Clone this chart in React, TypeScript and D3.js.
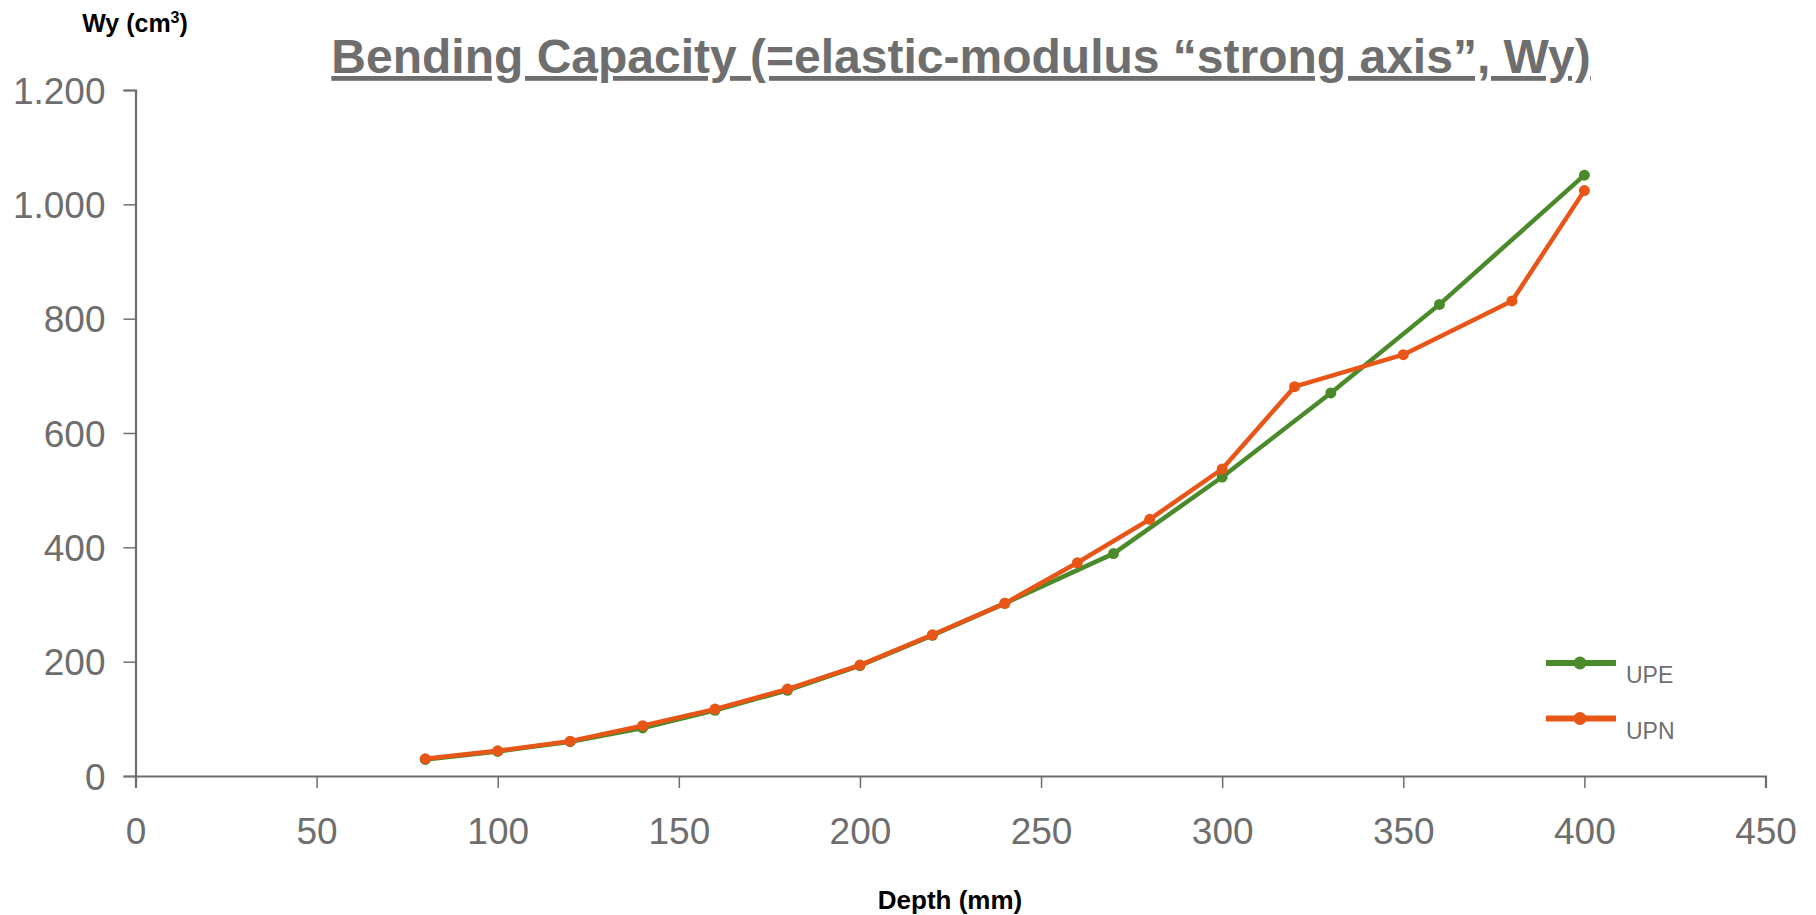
import React, { useEffect, useRef } from 'react';
import * as d3 from 'd3';

const upeDepth = [80, 100, 120, 140, 160, 180, 200, 220, 240, 270, 300, 330, 360, 400];
const upeWy = [29, 43, 60, 84, 115, 150, 193, 246, 302, 389, 523, 670, 825, 1051];

const upnDepth = [80, 100, 120, 140, 160, 180, 200, 220, 240, 260, 280, 300, 320, 350, 380, 400];
const upnWy = [30, 44, 61, 88, 117, 152, 194, 247, 302, 373, 449, 537, 681, 737, 831, 1024];

const xTicks = [0, 50, 100, 150, 200, 250, 300, 350, 400, 450];
const yTicks = [0, 200, 400, 600, 800, 1000, 1200];

const seriesNames = ['UPE', 'UPN'];
const seriesColors = ['#4a8a2b', '#e85617'];

const W = 1816;
const H = 915;
const FONT = '"Liberation Sans", Arial, sans-serif';
const GREY = '#6e6e6e';

const App: React.FC = () => {
  const ref = useRef<SVGSVGElement>(null);

  useEffect(() => {
    document.body.style.margin = '0';
    if (!ref.current) return;
    const svg = d3.select(ref.current);
    svg.selectAll('*').remove();

    const x = d3.scaleLinear().domain([0, 450]).range([135.5, 1765.5]);
    const y = d3.scaleLinear().domain([0, 1200]).range([776, 90]);

    const fmt = d3.formatLocale({ decimal: ',', thousands: '.', grouping: [3], currency: ['', ''] }).format(',');

    // title
    svg.append('text')
      .attr('x', 961)
      .attr('y', 73)
      .attr('text-anchor', 'middle')
      .attr('font-family', FONT)
      .attr('font-weight', 'bold')
      .attr('font-size', 48)
      .attr('fill', GREY)
      .style('text-decoration', 'underline')
      .text('Bending Capacity (=elastic-modulus \u201cstrong axis\u201d, Wy)');

    // axis titles
    const wy = svg.append('text')
      .attr('x', 135)
      .attr('y', 32)
      .attr('text-anchor', 'middle')
      .attr('font-family', FONT)
      .attr('font-weight', 'bold')
      .attr('font-size', 25)
      .attr('fill', '#000');
    wy.append('tspan').text('Wy (cm');
    wy.append('tspan').attr('font-size', 16).attr('dy', -9).text('3');
    wy.append('tspan').attr('dy', 9).text(')');

    svg.append('text')
      .attr('x', 950)
      .attr('y', 909)
      .attr('text-anchor', 'middle')
      .attr('font-family', FONT)
      .attr('font-weight', 'bold')
      .attr('font-size', 26)
      .attr('fill', '#000')
      .text('Depth (mm)');

    // axes
    const xAxis = svg.append('g')
      .attr('transform', `translate(0,${y(0)})`)
      .call(d3.axisBottom(x).tickValues(xTicks).tickSize(12).tickSizeOuter(12).tickPadding(28).tickFormat(d3.format('d')));
    const yAxis = svg.append('g')
      .attr('transform', `translate(${x(0)},0)`)
      .call(d3.axisLeft(y).tickValues(yTicks).tickSize(12).tickSizeOuter(12).tickPadding(18).tickFormat(d => fmt(d as number)));

    [xAxis, yAxis].forEach(a => {
      a.select('.domain').attr('stroke', GREY).attr('stroke-width', 2.2);
      a.selectAll('.tick line').attr('stroke', GREY).attr('stroke-width', 1.5);
      a.selectAll('.tick text')
        .attr('fill', GREY)
        .attr('font-family', FONT)
        .attr('font-size', 37);
    });
    xAxis.selectAll('.tick text').attr('dy', '0.75em');
    yAxis.selectAll('.tick text').attr('dy', '0.36em');

    // series
    const series = [
      { depth: upeDepth, wy: upeWy },
      { depth: upnDepth, wy: upnWy },
    ];
    const line = d3.line<[number, number]>().x(d => x(d[0])).y(d => y(d[1]));

    series.forEach((s, i) => {
      const pts: [number, number][] = s.depth.map((d, j) => [d, s.wy[j]]);
      const g = svg.append('g');
      g.append('path')
        .datum(pts)
        .attr('d', line)
        .attr('fill', 'none')
        .attr('stroke', seriesColors[i])
        .attr('stroke-width', 4.5)
        .attr('stroke-linejoin', 'round');
      g.selectAll('circle')
        .data(pts)
        .enter().append('circle')
        .attr('cx', d => x(d[0]))
        .attr('cy', d => y(d[1]))
        .attr('r', 5.5)
        .attr('fill', seriesColors[i]);
    });

    // legend
    const legend = svg.append('g').attr('transform', 'translate(1546,663)');
    seriesNames.forEach((name, i) => {
      const row = legend.append('g').attr('transform', `translate(0,${i * 55.5})`);
      row.append('line')
        .attr('x1', 0).attr('x2', 70).attr('y1', 0).attr('y2', 0)
        .attr('stroke', seriesColors[i])
        .attr('stroke-width', 6);
      row.append('circle')
        .attr('cx', 34).attr('cy', 0).attr('r', 6.5)
        .attr('fill', seriesColors[i]);
      row.append('text')
        .attr('x', 80)
        .attr('y', 20)
        .attr('font-family', FONT)
        .attr('font-size', 23)
        .attr('fill', GREY)
        .text(name);
    });
  }, []);

  return <svg ref={ref} width={W} height={H} viewBox={`0 0 ${W} ${H}`} style={{ display: 'block', background: '#fff' }} />;
};

export default App;
